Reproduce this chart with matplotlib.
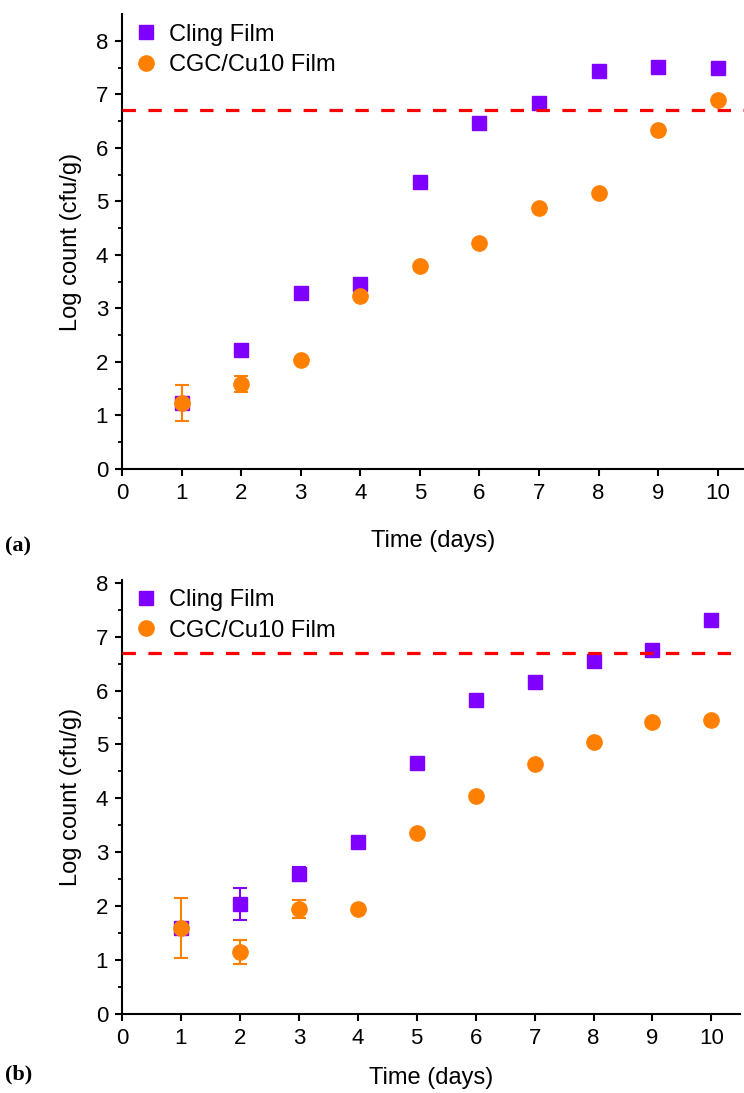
import matplotlib
matplotlib.use("Agg")
import matplotlib.pyplot as plt
import numpy as np

plt.rcParams['font.family'] = ['Liberation Sans', 'DejaVu Sans']

days = [1, 2, 3, 4, 5, 6, 7, 8, 9, 10]
limit = 6.7

# panel (a)
cling_a = [1.23, 2.22, 3.28, 3.45, 5.37, 6.47, 6.84, 7.44, 7.52, 7.50]
cling_a_err = [0, 0, 0, 0, 0, 0, 0, 0, 0, 0]
cgc_a = [1.23, 1.59, 2.03, 3.23, 3.79, 4.22, 4.87, 5.15, 6.34, 6.90]
cgc_a_err = [0.34, 0.15, 0, 0, 0, 0, 0, 0, 0, 0]

# panel (b)
cling_b = [1.60, 2.04, 2.60, 3.19, 4.65, 5.83, 6.15, 6.54, 6.76, 7.31]
cling_b_err = [0, 0.30, 0.13, 0, 0, 0, 0, 0, 0, 0]
cgc_b = [1.60, 1.15, 1.95, 1.95, 3.36, 4.05, 4.63, 5.04, 5.41, 5.46]
cgc_b_err = [0.56, 0.22, 0.17, 0, 0, 0, 0, 0, 0, 0]

PURPLE = "#8000ff"
ORANGE = "#ff8000"

fig = plt.figure(figsize=(7.44, 10.93), dpi=100)
ax_a = fig.add_axes([0.164, 0.571, 0.836, 0.416])
ax_b = fig.add_axes([0.164, 0.0723, 0.831, 0.397])

def draw(ax, cling, cling_err, cgc, cgc_err, xmax, ymax, xpad):
    e1 = ax.errorbar(days, cling, yerr=cling_err, fmt='s', color=PURPLE, ms=9.5,
                     capsize=5, elinewidth=1.5, capthick=1.5, zorder=3)
    e2 = ax.errorbar(days, cgc, yerr=cgc_err, fmt='o', color=ORANGE, ms=11,
                     capsize=5, elinewidth=1.5, capthick=1.5, zorder=4)
    ax.axhline(limit, color="red", lw=2.3, dashes=(4.2, 3.9), zorder=5)
    ax.set_xlim(0, xmax)
    ax.set_ylim(0, ymax)
    ax.set_xticks(range(0, 11))
    ax.set_yticks(range(0, int(ymax) + 1))
    ax.set_yticks(np.arange(0.5, ymax, 1), minor=True)
    for s in ["top", "right"]:
        ax.spines[s].set_visible(False)
    for s in ["left", "bottom"]:
        ax.spines[s].set_linewidth(1.5)
    ax.tick_params(which="major", direction="out", length=5, width=1.5, labelsize=16, pad=5)
    ax.tick_params(which="minor", direction="out", length=3, width=1.3)
    ax.set_xlabel("Time (days)", fontsize=17, labelpad=xpad)
    ax.set_ylabel("Log count (cfu/g)", fontsize=17, labelpad=10)
    ax.legend([e1[0], e2[0]], ["Cling Film", "CGC/Cu10 Film"], loc="upper left",
              frameon=False, fontsize=17, handletextpad=0.4, borderaxespad=0.0,
              labelspacing=0.35, handlelength=1.2, bbox_to_anchor=(0.0, 1.0))

draw(ax_a, cling_a, cling_a_err, cgc_a, cgc_a_err, 10.44, 8.5, 19)
draw(ax_b, cling_b, cling_b_err, cgc_b, cgc_b_err, 10.49, 8.05, 13)

fig.text(0.007, 0.5, "(a)", family="Liberation Serif", weight="bold", fontsize=16,
         va="center", ha="left")
fig.text(0.007, 0.008, "(b)", family="Liberation Serif", weight="bold", fontsize=16,
         va="bottom", ha="left")

fig.savefig("out.png", dpi=100, facecolor="white")
